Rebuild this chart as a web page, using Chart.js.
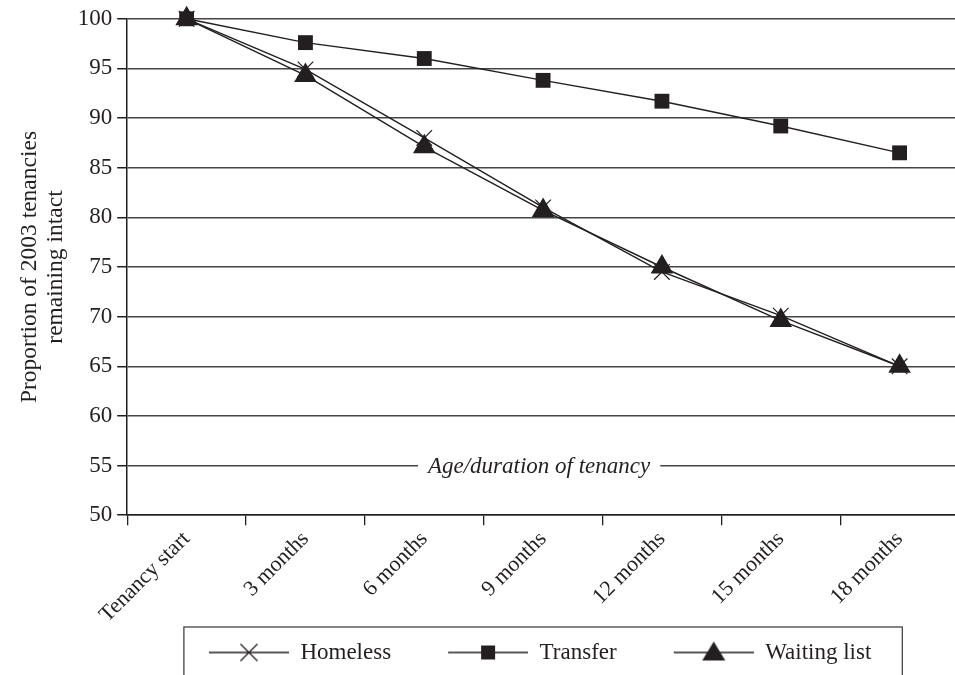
<!DOCTYPE html>
<html>
<head>
<meta charset="utf-8">
<script src="https://cdn.jsdelivr.net/npm/chart.js@4"></script>
<style>
html, body { margin: 0; padding: 0; background: #fff; overflow: hidden; }
.graph { width: 975px; height: 675px; }
</style>
</head>
<body>
<div class="graph"><canvas id="chart" width="975" height="675"></canvas></div>
<script>
// values
const labels = ['Tenancy start', '3 months', '6 months', '9 months', '12 months', '15 months', '18 months'];
const homeless = [100, 94.9, 88, 81, 74.5, 70.1, 65];
const transfer = [100, 97.6, 96, 93.8, 91.7, 89.2, 86.5];
const waitingList = [100, 94.3, 87.1, 80.7, 75, 69.6, 65];
const yMin = 50, yMax = 100, yStep = 5;
const yTitle = ['Proportion of 2003 tenancies', 'remaining intact'];
const xTitle = 'Age/duration of tenancy';
const xTitleAt = 55;

const INK = '#231f20';
const FONT = '"Liberation Serif", "Times New Roman", serif';
const SYMBOL_LEAD = 45, SYMBOL_LINE = 80;

// legend symbol: short line with the marker in the middle (blank lead on the left spaces the items)
const legendSymbol = kind => {
    const c = document.createElement('canvas');
    c.width = SYMBOL_LEAD + SYMBOL_LINE;
    c.height = 26;
    const ctx = c.getContext('2d');
    const cx = SYMBOL_LEAD + SYMBOL_LINE / 2, cy = 13;
    ctx.strokeStyle = INK;
    ctx.fillStyle = INK;
    ctx.lineWidth = 1.3;
    ctx.beginPath();
    ctx.moveTo(SYMBOL_LEAD, cy);
    ctx.lineTo(SYMBOL_LEAD + SYMBOL_LINE, cy);
    ctx.stroke();
    if (kind === 'crossRot') {
        const r = 8.5;
        ctx.beginPath();
        ctx.moveTo(cx - r, cy - r); ctx.lineTo(cx + r, cy + r);
        ctx.moveTo(cx + r, cy - r); ctx.lineTo(cx - r, cy + r);
        ctx.stroke();
    } else if (kind === 'rect') {
        ctx.fillRect(cx - 7, cy - 7, 14, 14);
    } else {
        ctx.beginPath();
        ctx.moveTo(cx, cy - 11);
        ctx.lineTo(cx + 11.5, cy + 8);
        ctx.lineTo(cx - 11.5, cy + 8);
        ctx.closePath();
        ctx.fill();
    }
    return c;
};

const series = (label, data, pointStyle, radius, borderWidth) => ({
    label,
    data,
    borderColor: INK,
    backgroundColor: INK,
    borderWidth: 1.4,
    pointStyle,
    pointRadius: radius,
    pointHoverRadius: radius,
    pointBorderWidth: borderWidth,
    pointBorderColor: INK,
    pointBackgroundColor: INK,
    tension: 0,
    clip: false
});

const legendFrame = {
    id: 'legendFrame',
    // centre what is visible of the legend row, not the blank lead of the first symbol
    afterLayout(chart) {
        const shift = SYMBOL_LEAD / 2 + 3;
        chart.legend.left -= shift;
        chart.legend.right -= shift;
    },
    afterDraw(chart) {
        const boxes = chart.legend.legendHitBoxes;
        if (!boxes || !boxes.length) return;
        const left = Math.min(...boxes.map(b => b.left)) + SYMBOL_LEAD - 25;
        const right = Math.max(...boxes.map(b => b.left + b.width)) + 31;
        const top = boxes[0].top - 14;
        const ctx = chart.ctx;
        ctx.save();
        ctx.strokeStyle = '#444';
        ctx.lineWidth = 1.3;
        ctx.strokeRect(left, top, right - left, 80);
        ctx.restore();
    }
};

const axisCaption = {
    id: 'axisCaption',
    afterDraw(chart) {
        const {ctx, chartArea, scales} = chart;
        const y = scales.y.getPixelForValue(xTitleAt);
        const x = (chartArea.left + chartArea.right) / 2 - 4;
        ctx.save();
        ctx.font = 'italic 23px ' + FONT;
        const w = ctx.measureText(xTitle).width;
        ctx.fillStyle = '#fff';
        ctx.fillRect(x - w / 2 - 10, y - 3, w + 20, 6);
        ctx.fillStyle = INK;
        ctx.textAlign = 'center';
        ctx.textBaseline = 'middle';
        ctx.fillText(xTitle, x, y + 1);
        ctx.restore();
    }
};

new Chart(document.getElementById('chart'), {
    type: 'line',
    data: {
        labels,
        datasets: [
            series('Homeless', homeless, 'crossRot', 11, 1.2),
            series('Transfer', transfer, 'rect', 10.5, 0),
            series('Waiting list', waitingList, 'triangle', 13, 0)
        ]
    },
    options: {
        responsive: false,
        animation: false,
        events: [],
        layout: {padding: {left: 17, right: 16, top: 8, bottom: 1}},
        scales: {
            x: {
                offset: true,
                grid: {display: true, offset: true, drawOnChartArea: false, drawTicks: true, tickLength: 10, color: INK, lineWidth: 1.3},
                border: {color: INK, width: 1.5},
                ticks: {font: {family: FONT, size: 22}, color: INK, minRotation: 45, maxRotation: 45, padding: 1, autoSkip: false}
            },
            y: {
                min: yMin,
                max: yMax,
                grid: {color: '#444', lineWidth: 1.5, tickLength: 10, tickColor: INK},
                border: {color: INK, width: 1.5},
                ticks: {stepSize: yStep, font: {family: FONT, size: 23}, color: INK, padding: 5},
                title: {display: true, text: yTitle, font: {family: FONT, size: 23.5, lineHeight: 1.1}, color: INK, padding: {top: 0, bottom: 4}}
            }
        },
        plugins: {
            tooltip: {enabled: false},
            legend: {
                position: 'bottom',
                fullSize: false,
                labels: {
                    usePointStyle: true,
                    pointStyleWidth: SYMBOL_LEAD + SYMBOL_LINE,
                    padding: 12,
                    color: INK,
                    font: {family: FONT, size: 23},
                    generateLabels: chart => Chart.defaults.plugins.legend.labels.generateLabels(chart).map(item => ({
                        ...item,
                        pointStyle: legendSymbol(chart.data.datasets[item.datasetIndex].pointStyle)
                    }))
                }
            }
        }
    },
    plugins: [legendFrame, axisCaption]
});
</script>
</body>
</html>
